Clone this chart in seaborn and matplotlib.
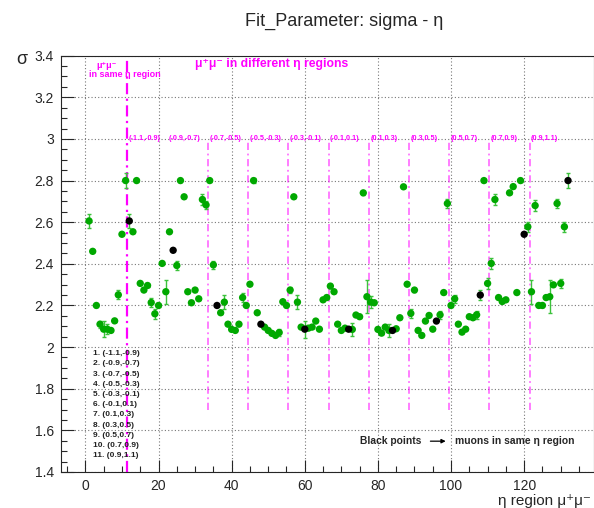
import matplotlib
matplotlib.use("Agg")
import matplotlib.pyplot as plt
from matplotlib.ticker import MultipleLocator, FormatStrFormatter
import numpy as np
import pandas as pd
import seaborn as sns

# eta-region pair index (1..132) and fitted sigma
region_idx = np.arange(1, 133)
sigma = [
    2.606, 2.46, 2.20, 2.11, 2.086, 2.086, 2.08, 2.126, 2.251, 2.542, 2.80,
    2.606, 2.554, 2.80, 2.306, 2.274, 2.296, 2.214, 2.16, 2.20, 2.402, 2.266,
    2.554, 2.465, 2.392, 2.80, 2.722, 2.266, 2.213, 2.274, 2.232, 2.709, 2.683,
    2.80, 2.395, 2.20, 2.165, 2.216, 2.11, 2.085, 2.08, 2.11, 2.238, 2.20,
    2.302, 2.80, 2.165, 2.11, 2.096, 2.08, 2.066, 2.056, 2.07, 2.218, 2.20,
    2.274, 2.722, 2.216, 2.096, 2.086, 2.091, 2.096, 2.125, 2.086, 2.227, 2.238,
    2.293, 2.266, 2.11, 2.08, 2.091, 2.086, 2.085, 2.154, 2.146, 2.741, 2.242,
    2.216, 2.213, 2.085, 2.067, 2.096, 2.08, 2.08, 2.088, 2.141, 2.77, 2.302,
    2.162, 2.274, 2.08, 2.056, 2.125, 2.152, 2.086, 2.125, 2.155, 2.262, 2.69,
    2.20, 2.232, 2.11, 2.072, 2.086, 2.146, 2.141, 2.155, 2.25, 2.80, 2.306,
    2.402, 2.709, 2.238, 2.219, 2.227, 2.741, 2.771, 2.262, 2.80, 2.542, 2.578,
    2.266, 2.68, 2.20, 2.20, 2.238, 2.242, 2.299, 2.69, 2.306, 2.578, 2.80,
]
sigma_err = [
    .035, .005, .005, .016, .037, .025, .005, .005, .022, .005, .034,
    .035, .005, .005, .005, .005, .005, .020, .025, .005, .005, .058,
    .005, .005, .020, .005, .005, .005, .005, .010, .005, .027, .020,
    .005, .020, .005, .005, .034, .005, .005, .005, .005, .020, .005,
    .005, .010, .005, .005, .005, .005, .005, .005, .015, .005, .005,
    .015, .005, .033, .005, .040, .005, .005, .005, .005, .005, .005,
    .010, .005, .005, .005, .005, .005, .030, .005, .005, .010, .078,
    .030, .005, .005, .005, .005, .030, .005, .005, .005, .005, .005,
    .020, .010, .005, .005, .005, .005, .005, .005, .020, .005, .020,
    .005, .020, .005, .005, .005, .005, .005, .020, .025, .005, .025,
    .025, .025, .005, .005, .005, .005, .005, .005, .005, .005, .025,
    .058, .025, .005, .005, .005, .078, .005, .020, .020, .025, .036,
]
# pairs where both muons are in the same eta region
same_region = [12, 24, 36, 48, 60, 72, 84, 96, 108, 120, 132]

eta_bins = ["(-1.1,-0.9)", "(-0.9,-0.7)", "(-0.7,-0.5)", "(-0.5,-0.3)",
            "(-0.3,-0.1)", "(-0.1,0.1)", "(0.1,0.3)", "(0.3,0.5)",
            "(0.5,0.7)", "(0.7,0.9)", "(0.9,1.1)"]
block_edges = [11.5, 22.5, 33.5, 44.5, 55.5, 66.5, 77.5, 88.5, 99.5, 110.5, 121.5]

df = pd.DataFrame({"region": region_idx, "sigma": sigma, "err": sigma_err})
df["kind"] = np.where(df["region"].isin(same_region), "same", "diff")

sns.set_style("ticks")
plt.rcParams["font.family"] = ["Liberation Sans", "DejaVu Sans"]

fig = plt.figure(figsize=(5.94, 5.08), dpi=100)
ax = fig.add_axes([0.1027, 0.0709, 0.8973, 0.8195])

mag = "#ff00ff"
# separators
ax.axvline(block_edges[0], color=mag, lw=1.6, ls=(0, (5, 2, 1, 2)), zorder=1)
for xe in block_edges[2:]:
    ax.plot([xe, xe], [1.70, 2.99], color=mag, alpha=0.55, lw=1.3,
            ls=(0, (4, 2, 1, 2)), zorder=1)
for xe, lab in zip(block_edges, eta_bins):
    ax.text(xe + 0.4, 3.0, lab, color=mag, fontsize=5.2, fontweight="bold",
            ha="left", va="center", zorder=4)

# points
ax.errorbar(df["region"], df["sigma"], yerr=df["err"], fmt="none",
            ecolor="#3cc23c", elinewidth=1.0, capsize=1.5, capthick=1.0, zorder=2)
sns.scatterplot(data=df[df["kind"] == "diff"], x="region", y="sigma",
                color="#00a800", s=28, edgecolor="none", legend=False, ax=ax, zorder=3)
sns.scatterplot(data=df[df["kind"] == "same"], x="region", y="sigma",
                color="black", s=28, edgecolor="none", legend=False, ax=ax, zorder=4)

ax.set_xlim(-6.67, 139.1)
ax.set_ylim(1.4, 3.4)
ax.xaxis.set_major_locator(MultipleLocator(20))
ax.xaxis.set_minor_locator(MultipleLocator(5))
ax.yaxis.set_major_locator(MultipleLocator(0.2))
ax.yaxis.set_minor_locator(MultipleLocator(0.05))
ax.yaxis.set_major_formatter(FormatStrFormatter("%g"))
ax.tick_params(which="major", direction="in", length=9, width=0.8,
               labelsize=10, pad=5)
ax.tick_params(which="minor", direction="in", length=4.5, width=0.8)
ax.grid(True, which="major", color="#777777", ls=(0, (1, 2)), lw=0.8)
for s in ax.spines.values():
    s.set_linewidth(0.8)

ax.set_xlabel("")
ax.set_ylabel("")
fig.text(0.995, 0.0, "η region μ⁺μ⁻", ha="right", va="bottom", fontsize=11)
fig.text(0.037, 0.882, "σ", ha="center", va="center", fontsize=13)
fig.text(0.579, 0.958, "Fit_Parameter: sigma - η", ha="center", va="center",
         fontsize=13)

# annotations
ax.text(5.8, 3.355, "μ⁺μ⁻", color=mag, fontsize=6.5, fontweight="bold",
        ha="center", va="center")
ax.text(10.8, 3.31, "in same η region", color=mag, fontsize=6.5,
        fontweight="bold", ha="center", va="center")
ax.text(30.0, 3.36, "μ⁺μ⁻ in different η regions", color=mag, fontsize=8.8,
        fontweight="bold", ha="left", va="center")

for i, lab in enumerate(eta_bins):
    ax.text(2.0, 1.968 - i * 0.049, f"{i + 1}. {lab}", fontsize=6,
            fontweight="bold", color="#222222", ha="left", va="center")

ax.text(75.1, 1.548, "Black points", fontsize=7.4, fontweight="bold",
        ha="left", va="center")
ax.annotate("", xy=(99.3, 1.548), xytext=(93.6, 1.548),
            arrowprops=dict(arrowstyle="-|>", color="black", lw=0.9,
                            mutation_scale=6))
ax.text(101.1, 1.548, "muons in same η region", fontsize=7.4,
        fontweight="bold", ha="left", va="center")

fig.savefig("out.png", dpi=100)
